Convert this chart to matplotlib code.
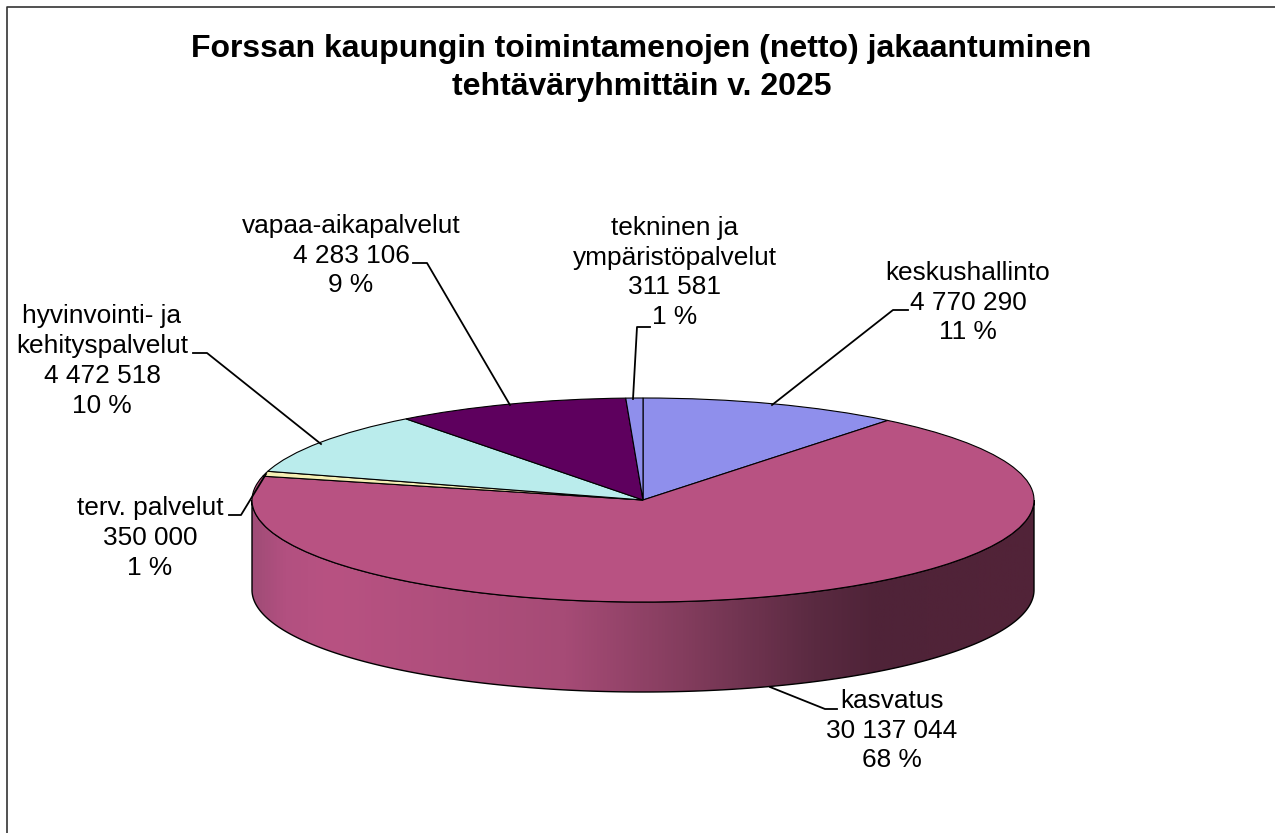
import numpy as np
from matplotlib import pyplot as plt
from matplotlib.colors import LinearSegmentedColormap
from matplotlib.patches import Polygon

names = ["keskushallinto", "kasvatus", "terv. palvelut",
         "hyvinvointi- ja\nkehityspalvelut", "vapaa-aikapalvelut",
         "tekninen ja\nympäristöpalvelut"]
values = [4770290, 30137044, 350000, 4472518, 4283106, 311581]
percents = [11, 68, 1, 10, 9, 1]
colors = ["#8f8fec", "#b85282", "#f5efb5", "#baecec", "#5e005e", "#8f8fec"]

title = "Forssan kaupungin toimintamenojen (netto) jakaantuminen\ntehtäväryhmittäin v. 2025"

# pixel geometry of the flattened pie
cx, cy = 643, 500
rx, ry = 391, 102
depth = 90
W, H = 1275, 833

# label centre and leader line for every slice, same order as values
label_pos = [(968, 302.5), (892, 730.5), (150, 538), (102, 361), (351, 255.5), (675, 272.5)]
leaders = [
    [(772, 405), (893, 310), (908, 310)],
    [(770, 687), (825, 709), (837, 709)],
    [(266, 474), (241, 515), (229, 515)],
    [(321, 444), (207, 353), (193, 353)],
    [(510, 405), (427, 263), (413, 263)],
    [(633, 399), (637, 327), (650, 327)],
]

plt.rcParams["font.family"] = ["Liberation Sans", "DejaVu Sans"]

fig = plt.figure(figsize=(W / 100, H / 100), dpi=100)
ax = fig.add_axes([0, 0, 1, 1])
ax.set_xlim(0, W)
ax.set_ylim(H, 0)
ax.axis("off")

# chart area border, only left and top are inside the picture
ax.plot([7, 7, W], [H, 7, 7], color="#333333", lw=1.2)

ax.text(641.5, 68, title, ha="center", va="center", fontsize=23.05, fontweight="bold", linespacing=1.33)

# side wall with the horizontal gradient
t = np.linspace(0, np.pi, 300)
top = np.column_stack([cx + rx * np.cos(t), cy + ry * np.sin(t)])
bottom = top[::-1] + [0, depth]
wall_xy = np.vstack([top, bottom])
wall_cmap = LinearSegmentedColormap.from_list("wall", [
    (0.0, "#a04c77"), (0.04, "#b25080"), (0.1, "#b85282"), (0.4, "#a64b76"),
    (0.55, "#843d5e"), (0.72, "#5a2a41"), (0.8, "#4f2338"), (1.0, "#522338")])
wall = Polygon(wall_xy, closed=True, facecolor="none", edgecolor="black", lw=1.0, zorder=3)
ax.add_patch(wall)
grad = ax.imshow(np.linspace(0, 1, 800).reshape(1, -1), cmap=wall_cmap, aspect="auto",
                 extent=(cx - rx, cx + rx, cy + ry + depth, cy - ry), zorder=2)
grad.set_clip_path(wall)
ax.set_xlim(0, W)
ax.set_ylim(H, 0)

# top face
pie_ax = fig.add_axes([(cx - rx) / W, 1 - (cy + ry) / H, 2 * rx / W, 2 * ry / H])
pie_ax.pie(values, colors=colors, startangle=90, counterclock=False, radius=1,
           wedgeprops={"edgecolor": "black", "linewidth": 0.8, "clip_on": False})
pie_ax.set_aspect("auto")
pie_ax.set_xlim(-1, 1)
pie_ax.set_ylim(-1, 1)
pie_ax.patch.set_alpha(0)

# labels go above everything
lab_ax = fig.add_axes([0, 0, 1, 1])
lab_ax.set_xlim(0, W)
lab_ax.set_ylim(H, 0)
lab_ax.axis("off")
lab_ax.patch.set_alpha(0)
for name, val, pct, pos, line in zip(names, values, percents, label_pos, leaders):
    val_txt = f"{val:,}".replace(",", " ")
    lab_ax.text(pos[0], pos[1], f"{name}\n{val_txt}\n{pct} %", ha="center", va="center",
                fontsize=18.9, linespacing=1.31)
    xs, ys = zip(*line)
    lab_ax.plot(xs, ys, color="black", lw=1.3)

fig.savefig("out.png", dpi=100)
